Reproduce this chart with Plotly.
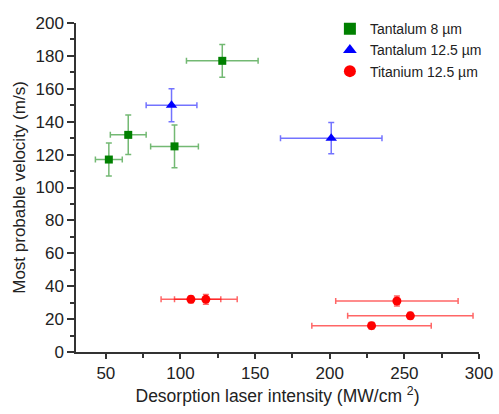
import plotly.graph_objects as go

# Tantalum 8 um
ta8_x = [52, 65, 96, 128]
ta8_y = [117, 132, 125, 177]
ta8_xerr = [9, 12, 16, 24]
ta8_yerr = [10, 12, 13, 10]

# Tantalum 12.5 um
ta125_x = [94, 201]
ta125_y = [150, 130]
ta125_xerr = [17, 34]
ta125_yerr = [10, 9.5]

# Titanium 12.5 um
ti_x = [107, 117, 245, 254, 228]
ti_y = [32, 32, 31, 22, 16]
ti_xerr = [20, 21, 41, 42, 40]
ti_yerr = [2, 3, 3, 2, 2]

series = [
    ("Tantalum 8 µm", ta8_x, ta8_y, ta8_xerr, ta8_yerr, "#008000", "rgba(0,128,0,0.55)", "square", 8),
    ("Tantalum 12.5 µm", ta125_x, ta125_y, ta125_xerr, ta125_yerr, "#0000ff", "rgba(0,0,255,0.55)", "triangle-up", 10),
    ("Titanium 12.5 µm", ti_x, ti_y, ti_xerr, ti_yerr, "#ff0000", "rgba(255,0,0,0.6)", "circle", 9),
]

fig = go.Figure()
for name, x, y, xe, ye, col, ecol, sym, sz in series:
    fig.add_trace(go.Scatter(
        x=x, y=y, mode="markers", name=name,
        marker=dict(symbol=sym, size=sz, color=col),
        error_x=dict(type="data", array=xe, visible=True, color=ecol, thickness=1.5, width=3),
        error_y=dict(type="data", array=ye, visible=True, color=ecol, thickness=1.5, width=3),
    ))

FONT = "Arial, Liberation Sans, sans-serif"
axis_common = dict(
    showline=True, linecolor="#333333", linewidth=1.5,
    ticks="outside", tickwidth=1.5, tickcolor="#333333",
    showgrid=False, zeroline=False, automargin=False,
    tickfont=dict(family=FONT, size=17, color="#222222"),
)

fig.update_layout(
    width=499, height=414,
    paper_bgcolor="white", plot_bgcolor="white",
    margin=dict(l=76, r=16, t=23, b=62),
    font=dict(family=FONT, color="#222222"),
    xaxis=dict(
        range=[30, 300], tickvals=[50, 100, 150, 200, 250, 300], ticklen=5,
        minor=dict(tickvals=[75, 125, 175, 225, 275], ticks="outside", ticklen=4, tickwidth=1.5, tickcolor="#333333"),
        title=dict(text="Desorption laser intensity (MW/cm <sup>2</sup>)", font=dict(size=17.5), standoff=8),
        **axis_common,
    ),
    yaxis=dict(
        range=[0, 200], tickvals=list(range(0, 201, 20)), ticklen=7,
        minor=dict(tickvals=list(range(10, 200, 20)), ticks="outside", ticklen=4, tickwidth=1.5, tickcolor="#333333"),
        title=dict(text="Most probable velocity (m/s)", font=dict(size=17), standoff=6),
        **axis_common,
    ),
    legend=dict(
        x=0.63, y=1.03, xanchor="left", yanchor="top",
        font=dict(size=14, color="#222222"), bgcolor="rgba(0,0,0,0)",
        itemsizing="constant", tracegroupgap=0,
    ),
    showlegend=True,
)

fig.write_html(
    "out.html",
    config={"displayModeBar": False},
    post_script="document.body.style.margin='0';document.body.style.overflow='hidden';",
)
